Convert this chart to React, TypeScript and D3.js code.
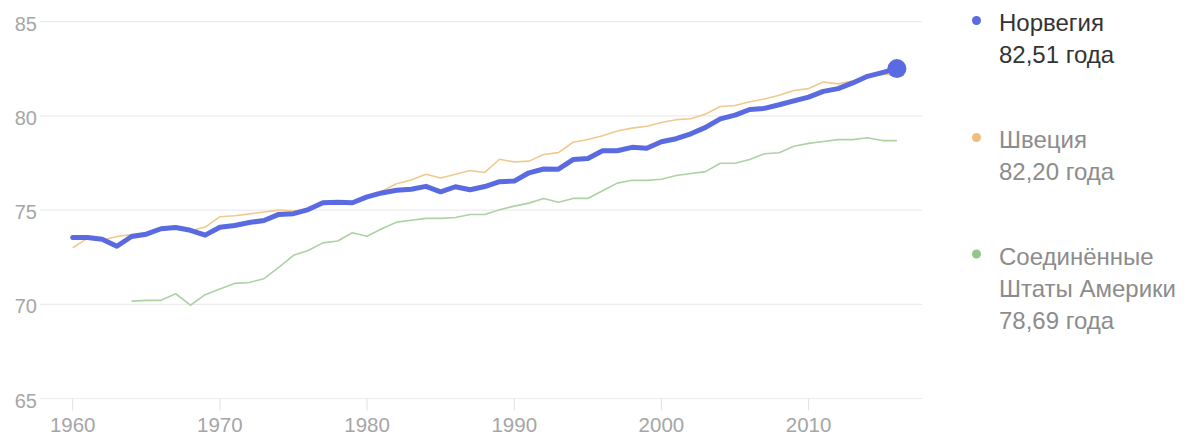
import * as d3 from 'd3'

// Life expectancy at birth, years
const startYear = 1960
const norway = [
  73.55, 73.55, 73.45, 73.08, 73.6, 73.72, 74.01, 74.08, 73.93, 73.67,
  74.09, 74.18, 74.34, 74.45, 74.77, 74.81, 75.03, 75.39, 75.42, 75.39,
  75.7, 75.91, 76.05, 76.11, 76.26, 75.97, 76.24, 76.08, 76.25, 76.51,
  76.54, 76.98, 77.18, 77.17, 77.68, 77.74, 78.15, 78.15, 78.33, 78.28,
  78.63, 78.79, 79.05, 79.39, 79.84, 80.04, 80.34, 80.4, 80.59, 80.8,
  81.0, 81.3, 81.45, 81.75, 82.1, 82.3, 82.51,
]
const sweden = [
  73.0, 73.5, 73.4, 73.6, 73.7, 73.8, 74.0, 74.1, 73.9, 74.1,
  74.65, 74.7, 74.8, 74.9, 75.0, 74.95, 75.0, 75.3, 75.35, 75.45,
  75.75, 76.0, 76.4, 76.6, 76.9, 76.7, 76.9, 77.1, 77.0, 77.7,
  77.55, 77.6, 77.95, 78.05, 78.6, 78.75, 78.95, 79.2, 79.35, 79.45,
  79.65, 79.8, 79.85, 80.1, 80.5, 80.55, 80.75, 80.9, 81.1, 81.35,
  81.45, 81.8, 81.7, 81.85, 82.1, 82.2, 82.2,
]
const usaStartYear = 1964
const usa = [
  70.17, 70.21, 70.21, 70.56, 69.95, 70.51,
  70.81, 71.11, 71.16, 71.36, 71.96, 72.6, 72.86, 73.26, 73.36, 73.8,
  73.61, 74.01, 74.36, 74.46, 74.56, 74.56, 74.61, 74.77, 74.77, 75.02,
  75.21, 75.37, 75.62, 75.42, 75.62, 75.62, 76.03, 76.43, 76.58, 76.58,
  76.64, 76.84, 76.94, 77.04, 77.49, 77.49, 77.69, 77.99, 78.04, 78.39,
  78.54, 78.64, 78.74, 78.74, 78.84, 78.69, 78.69,
]

const yTicks = [65, 70, 75, 80, 85]
const xTicks = [1960, 1970, 1980, 1990, 2000, 2010]

const legendLabels = [
  ['Норвегия', '82,51 года'],
  ['Швеция', '82,20 года'],
  ['Соединённые', 'Штаты Америки', '78,69 года'],
]

const colors = ['#5a6ae0', '#f0c98c', '#add2a4']
const legendDotColors = ['#5a6ae0', '#efbf7e', '#93c78a']
const legendTextColors = ['#333333', '#8c8c8c', '#8c8c8c']

const toPoints = (values: number[], first: number) =>
  values.map((v, i) => ({ year: first + i, value: v }))

export default function App() {
  const width = 1192
  const height = 437
  const font = 'Arial, "Liberation Sans", sans-serif'

  const x = d3.scaleLinear().domain([1960, 2016]).range([72.7, 896.9])
  const y = d3.scaleLinear().domain([65, 85]).range([398.5, 21.7])

  const line = d3
    .line<{ year: number; value: number }>()
    .x((d) => x(d.year))
    .y((d) => y(d.value))

  const norwayPts = toPoints(norway, startYear)
  const last = norwayPts[norwayPts.length - 1]

  const legendDotY = [20.5, 137.5, 254]

  return (
    <svg
      width={width}
      height={height}
      style={{ position: 'absolute', left: 0, top: 0, background: '#fff' }}
      fontFamily={font}
    >
      {/* grid */}
      {yTicks.map((t) => (
        <g key={t}>
          <line x1={40} x2={922} y1={y(t)} y2={y(t)} stroke="#ececec" strokeWidth={1.2} />
          <text x={37} y={y(t) + 2} textAnchor="end" dominantBaseline="central" fontSize={20} fill="#a6a6a6">
            {t}
          </text>
        </g>
      ))}

      {/* x axis ticks */}
      {xTicks.map((t) => (
        <g key={t}>
          <line x1={x(t)} x2={x(t)} y1={y(65)} y2={y(65) + 12} stroke="#e2e2e2" strokeWidth={1} />
          <text x={x(t)} y={432} textAnchor="middle" fontSize={20.5} fill="#a6a6a6">
            {t}
          </text>
        </g>
      ))}

      {/* series */}
      <path d={line(toPoints(usa, usaStartYear)) ?? ''} fill="none" stroke={colors[2]} strokeWidth={1.6} strokeLinejoin="round" />
      <path d={line(toPoints(sweden, startYear)) ?? ''} fill="none" stroke={colors[1]} strokeWidth={1.6} strokeLinejoin="round" />
      <path d={line(norwayPts) ?? ''} fill="none" stroke={colors[0]} strokeWidth={5} strokeLinejoin="round" strokeLinecap="round" />
      <circle cx={x(last.year)} cy={y(last.value)} r={9.5} fill={colors[0]} />

      {/* legend */}
      {legendLabels.map((lines, i) => (
        <g key={i}>
          <circle cx={976.5} cy={legendDotY[i]} r={4.5} fill={legendDotColors[i]} />
          {lines.map((s, j) => (
            <text key={j} x={999} y={legendDotY[i] + 10.5 + j * 32.3} fontSize={24} fill={legendTextColors[i]}>
              {s}
            </text>
          ))}
        </g>
      ))}
    </svg>
  )
}
